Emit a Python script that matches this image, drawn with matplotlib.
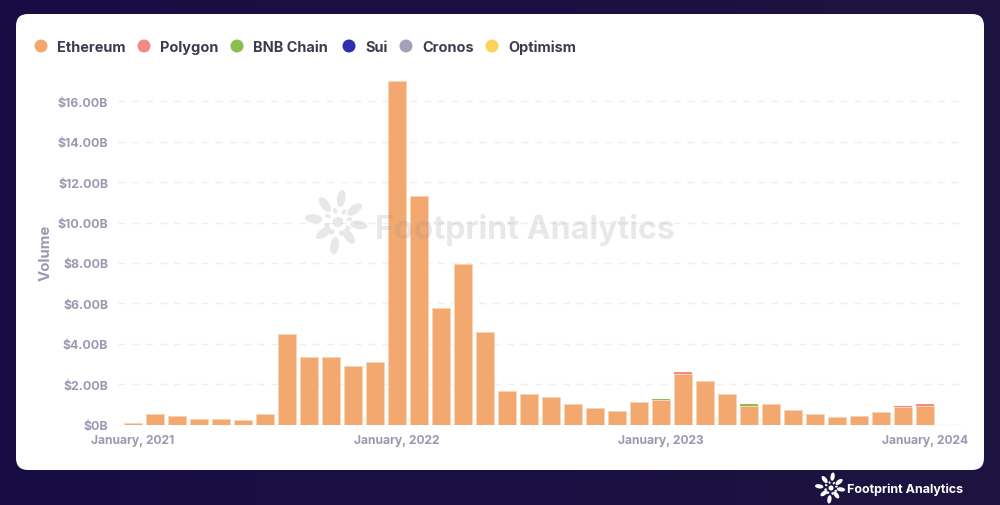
import numpy as np
import matplotlib
matplotlib.use('Agg')
import matplotlib.pyplot as plt
from matplotlib.patches import FancyBboxPatch, Ellipse

plt.rcParams['font.family'] = ['Inter', 'Liberation Sans', 'DejaVu Sans']

months = ['January, 2021'] + [''] * 11 + ['January, 2022'] + [''] * 11 + ['January, 2023'] + [''] * 11 + ['January, 2024']
ethereum = [0.05, 0.50, 0.42, 0.27, 0.27, 0.22, 0.50, 4.50, 3.35, 3.35, 2.90, 3.10, 17.00,
            11.30, 5.75, 7.95, 4.60, 1.68, 1.50, 1.38, 1.00, 0.80, 0.68, 1.10, 1.20,
            2.50, 2.15, 1.50, 0.93, 1.00, 0.73, 0.52, 0.36, 0.42, 0.62, 0.85, 0.93]
polygon = [0, 0, 0, 0, 0, 0, 0, 0, 0, 0, 0, 0, 0,
           0, 0, 0, 0, 0, 0, 0, 0, 0, 0, 0, 0,
           0.10, 0, 0, 0, 0.03, 0, 0, 0, 0, 0, 0.06, 0.09]
bnb = [0, 0, 0, 0, 0, 0, 0, 0, 0, 0, 0, 0, 0,
       0, 0, 0, 0, 0, 0, 0, 0, 0, 0, 0, 0.07,
       0, 0, 0, 0.07, 0, 0, 0, 0, 0, 0, 0, 0]
series_names = ['Ethereum', 'Polygon', 'BNB Chain', 'Sui', 'Cronos', 'Optimism']
series_colors = ['#f3a86f', '#f58a84', '#8bbf4d', '#2f2db0', '#a5a1bb', '#fbd25e']
y_ticks = [0, 2, 4, 6, 8, 10, 12, 14, 16]
y_labels = ['$0B', '$2.00B', '$4.00B', '$6.00B', '$8.00B', '$10.00B', '$12.00B', '$14.00B', '$16.00B']

W, H = 1000, 506
fig = plt.figure(figsize=(W / 100, H / 100), dpi=100)

# background + card, pixel coordinates
bg = fig.add_axes([0, 0, 1, 1], zorder=0)
grad = np.array([[0, 0.55, 0.35, 0.7, 1.0]])
cmap = matplotlib.colors.LinearSegmentedColormap.from_list('night', ['#180c45', '#1d1440'])
bg.imshow(grad, extent=[0, W, H, 0], aspect='auto', cmap=cmap, interpolation='bicubic')
bg.set_xlim(0, W)
bg.set_ylim(H, 0)
bg.axis('off')
bg.add_patch(FancyBboxPatch((28, 27), 944, 432, boxstyle='round,pad=12,rounding_size=12',
                            fc='white', ec='none'))

# chart
left, right, top, bottom = 118, 965, 80, 425.5
ax = fig.add_axes([left / W, 1 - bottom / H, (right - left) / W, (bottom - top) / H], zorder=1)
ax.patch.set_alpha(0)
x = np.arange(len(ethereum))
ax.bar(x, ethereum, width=0.82, color=series_colors[0], edgecolor='#f9d3b5', linewidth=0.7, zorder=3)
ax.bar(x, polygon, width=0.82, bottom=ethereum, color=series_colors[1], linewidth=0, zorder=3)
ax.bar(x, bnb, width=0.82, bottom=np.array(ethereum) + np.array(polygon), color=series_colors[2], linewidth=0, zorder=3)
ax.set_xlim(-0.68, 37.82)
ax.set_ylim(0, (bottom - top) / 20.2)
ax.set_yticks(y_ticks, y_labels)
ticks = [i for i, m in enumerate(months) if m]
ax.set_xticks(ticks, [months[i] for i in ticks])
ax.tick_params(axis='y', length=0, labelsize=8.9, labelcolor='#9b99b0', pad=7)
ax.tick_params(axis='x', length=0, labelsize=8.7, labelcolor='#9b99b0', pad=7)
for t in ax.get_xticklabels() + ax.get_yticklabels():
    t.set_fontweight('bold')
ax.grid(axis='y', color='#efeff1', linestyle=(0, (5, 5)), linewidth=1, zorder=0)
for s in ax.spines.values():
    s.set_visible(False)
ax.axhline(0, color='#efeff1', linewidth=1, zorder=1)
ax.set_ylabel('Volume', fontsize=10.8, fontweight='bold', color='#9b99b0')
ax.yaxis.set_label_coords(-0.0767, 0.5)

# overlay: legend, watermark, footer
ov = fig.add_axes([0, 0, 1, 1], zorder=2)
ov.set_xlim(0, W)
ov.set_ylim(H, 0)
ov.axis('off')
ov.patch.set_alpha(0)

marker_x = [41, 144, 237, 349, 406, 492]
for mx, name, col in zip(marker_x, series_names, series_colors):
    ov.add_patch(Ellipse((mx, 47), 13, 13, fc=col, ec='none'))
    ov.text(mx + 16, 47.5, name, fontsize=10.45, fontweight='bold', color='#3d3b4f', va='center', ha='left')


def draw_logo(cx, cy, s, color, alpha):
    # petals alternate long and short around a round centre
    angles = [0, 45, 90, 135, 180, 225, 270, 315]
    long_r = [0.72, 0.62, 0.82, 0.62, 0.85, 0.75, 0.82, 0.72]
    for a, r in zip(angles, long_r):
        rad = np.deg2rad(a + 8)
        ov.add_patch(Ellipse((cx + s * r * np.cos(rad), cy + s * r * np.sin(rad)), s * 0.6, s * 0.3,
                             angle=a + 8, fc=color, ec='none', alpha=alpha))
        ov.add_patch(Ellipse((cx + s * 0.4 * np.cos(rad + 0.39), cy + s * 0.4 * np.sin(rad + 0.39)), s * 0.2, s * 0.14,
                             angle=a + 30, fc=color, ec='none', alpha=alpha))
    ov.add_patch(Ellipse((cx, cy), s * 0.36, s * 0.36, fc=color, ec='none', alpha=alpha))


draw_logo(338, 223, 29, '#8a8f99', 0.2)
ov.text(375, 230, 'Footprint Analytics', fontsize=23.2, fontweight='bold', color='#8a8f99',
        alpha=0.2, va='center', ha='left')
draw_logo(831, 489, 14, 'white', 1)
ov.text(847, 490, 'Footprint Analytics', fontsize=9, fontweight='bold', color='white', va='center', ha='left')

fig.savefig('out.png', dpi=100)
